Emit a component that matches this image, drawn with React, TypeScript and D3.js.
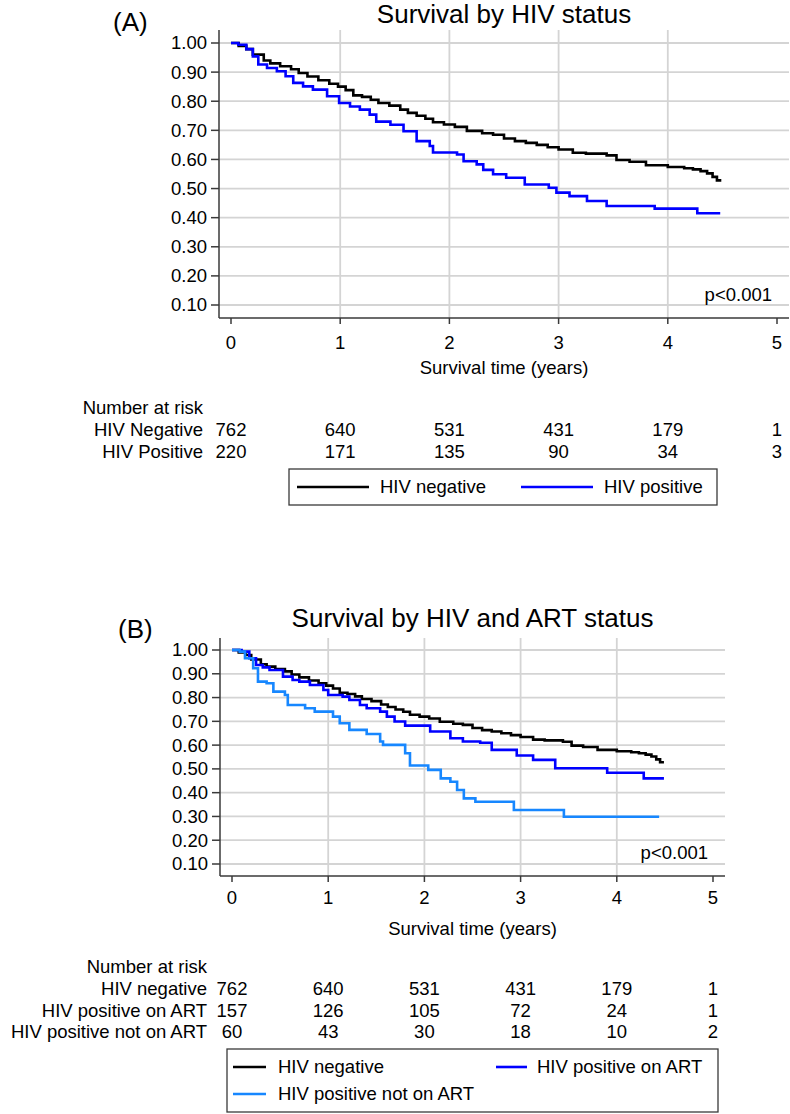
import React from 'react';
import * as d3 from 'd3';

// ---------- DATA ----------
const yTickValues = [0.1, 0.2, 0.3, 0.4, 0.5, 0.6, 0.7, 0.8, 0.9, 1.0];
const xTickValues = [0, 1, 2, 3, 4, 5];
const gridX = [1, 2, 3, 4];

const negTime = [0, 0.07, 0.14, 0.2, 0.3, 0.36, 0.45, 0.55, 0.62, 0.7, 0.8, 0.9, 0.98, 1.05, 1.12, 1.2, 1.28, 1.35, 1.45, 1.55, 1.62, 1.7, 1.78, 1.85, 1.95, 2.05, 2.16, 2.3, 2.4, 2.5, 2.6, 2.7, 2.8, 2.9, 3.0, 3.13, 3.25, 3.44, 3.53, 3.65, 3.8, 4.0, 4.15, 4.23, 4.3, 4.36, 4.41, 4.45, 4.49];
const negSurv = [1.0, 0.99, 0.979, 0.96, 0.94, 0.93, 0.92, 0.91, 0.897, 0.885, 0.872, 0.86, 0.85, 0.838, 0.82, 0.815, 0.805, 0.794, 0.785, 0.771, 0.76, 0.75, 0.74, 0.728, 0.72, 0.712, 0.698, 0.69, 0.685, 0.672, 0.663, 0.657, 0.65, 0.642, 0.634, 0.623, 0.62, 0.614, 0.598, 0.592, 0.58, 0.574, 0.57, 0.566, 0.56, 0.552, 0.54, 0.528, 0.528];

const posTime = [0, 0.067, 0.14, 0.2, 0.25, 0.33, 0.42, 0.5, 0.57, 0.66, 0.75, 0.88, 0.99, 1.09, 1.18, 1.27, 1.33, 1.46, 1.58, 1.7, 1.82, 1.85, 2.07, 2.13, 2.25, 2.31, 2.4, 2.52, 2.69, 2.91, 2.98, 3.1, 3.26, 3.44, 3.88, 4.27, 4.48];
const posSurv = [1.0, 0.994, 0.979, 0.954, 0.926, 0.914, 0.903, 0.886, 0.863, 0.851, 0.84, 0.817, 0.794, 0.782, 0.771, 0.754, 0.73, 0.719, 0.697, 0.663, 0.646, 0.624, 0.617, 0.594, 0.583, 0.564, 0.549, 0.537, 0.514, 0.503, 0.486, 0.474, 0.457, 0.44, 0.431, 0.415, 0.415];

const artTime = [0, 0.1, 0.18, 0.25, 0.32, 0.39, 0.53, 0.63, 0.7, 0.81, 0.95, 1.0, 1.15, 1.22, 1.33, 1.4, 1.54, 1.61, 1.69, 1.8, 2.06, 2.27, 2.4, 2.58, 2.7, 2.96, 3.13, 3.36, 3.9, 4.28, 4.49];
const artSurv = [1.0, 0.993, 0.965, 0.937, 0.927, 0.916, 0.888, 0.874, 0.867, 0.853, 0.832, 0.811, 0.804, 0.79, 0.769, 0.755, 0.741, 0.72, 0.699, 0.682, 0.657, 0.629, 0.615, 0.61, 0.58, 0.556, 0.538, 0.503, 0.484, 0.46, 0.46];

const noArtTime = [0, 0.08, 0.135, 0.22, 0.27, 0.36, 0.43, 0.55, 0.58, 0.76, 0.86, 1.05, 1.12, 1.22, 1.4, 1.54, 1.57, 1.8, 1.85, 2.04, 2.17, 2.27, 2.34, 2.41, 2.53, 2.93, 3.45, 4.44];
const noArtSurv = [1.0, 0.993, 0.965, 0.923, 0.867, 0.86, 0.825, 0.811, 0.769, 0.755, 0.741, 0.72, 0.692, 0.664, 0.647, 0.615, 0.601, 0.566, 0.514, 0.496, 0.46, 0.446, 0.411, 0.376, 0.362, 0.327, 0.299, 0.299];

const riskTimes = [0, 1, 2, 3, 4, 5];
const riskANeg = [762, 640, 531, 431, 179, 1];
const riskAPos = [220, 171, 135, 90, 34, 3];
const riskBNeg = [762, 640, 531, 431, 179, 1];
const riskBArt = [157, 126, 105, 72, 24, 1];
const riskBNoArt = [60, 43, 30, 18, 10, 2];

const labelsA = ['HIV Negative', 'HIV Positive'];
const labelsB = ['HIV negative', 'HIV positive on ART', 'HIV positive not on ART'];
const legendA = ['HIV negative', 'HIV positive'];
const legendB = ['HIV negative', 'HIV positive on ART', 'HIV positive not on ART'];

// ---------- STYLE ----------
const FONT = '"Liberation Sans", Arial, Helvetica, sans-serif';
const SMALL = 18.5;
const BIG = 26;
const C_BLACK = '#000000';
const C_BLUE = '#0000ff';
const C_LTBLUE = '#1787ff';
const GRID = '#d4d4d4';
const AXIS = '#3a3a3a';

type Series = { t: number[]; s: number[]; color: string };

type PanelCfg = {
  tag: string; tagX: number; tagY: number;
  title: string; titleY: number;
  left: number; right: number; top: number; bottom: number;
  x0: number; x5: number; y1: number; y01: number;
  series: Series[];
  pX: number; pY: number;
  tickLabelY: number; xLabelY: number;
  riskHeadY: number; riskLabelRight: number; riskRowsY: number[];
  riskLabels: string[]; riskValues: number[][];
};

function Panel({ cfg }: { cfg: PanelCfg }) {
  const x = d3.scaleLinear().domain([0, 5]).range([cfg.x0, cfg.x5]);
  const y = d3.scaleLinear().domain([0.1, 1.0]).range([cfg.y01, cfg.y1]);
  const line = d3.line<[number, number]>()
    .x((d) => x(d[0]))
    .y((d) => y(d[1]))
    .curve(d3.curveStepAfter);
  const cx = (cfg.left + cfg.right) / 2;
  return (
    <g>
      <text x={cfg.tagX} y={cfg.tagY} fontSize={BIG} fontFamily={FONT}>{cfg.tag}</text>
      <text x={cx} y={cfg.titleY} fontSize={BIG} fontFamily={FONT} textAnchor="middle">{cfg.title}</text>
      {/* grid */}
      {yTickValues.map((v) => (
        <line key={'gy' + v} x1={cfg.left} x2={cfg.right} y1={y(v)} y2={y(v)} stroke={GRID} strokeWidth={1.8} />
      ))}
      {gridX.map((v) => (
        <line key={'gx' + v} x1={x(v)} x2={x(v)} y1={cfg.top} y2={cfg.bottom} stroke={GRID} strokeWidth={1.8} />
      ))}
      {/* axes */}
      <line x1={cfg.left} x2={cfg.left} y1={cfg.top} y2={cfg.bottom} stroke={AXIS} strokeWidth={1.5} />
      <line x1={cfg.left} x2={cfg.right} y1={cfg.bottom} y2={cfg.bottom} stroke={AXIS} strokeWidth={1.5} />
      {yTickValues.map((v) => (
        <g key={'ty' + v}>
          <line x1={cfg.left - 8} x2={cfg.left} y1={y(v)} y2={y(v)} stroke={AXIS} strokeWidth={1.5} />
          <text x={cfg.left - 12} y={y(v)} dy="0.35em" fontSize={SMALL} fontFamily={FONT} textAnchor="end">{d3.format('.2f')(v)}</text>
        </g>
      ))}
      {xTickValues.map((v) => (
        <g key={'tx' + v}>
          <line x1={x(v)} x2={x(v)} y1={cfg.bottom} y2={cfg.bottom + 6} stroke={AXIS} strokeWidth={1.5} />
          <text x={x(v)} y={cfg.tickLabelY} dy="0.35em" fontSize={SMALL} fontFamily={FONT} textAnchor="middle">{v}</text>
        </g>
      ))}
      <text x={cx} y={cfg.xLabelY} dy="0.35em" fontSize={SMALL} fontFamily={FONT} textAnchor="middle">Survival time (years)</text>
      {/* curves */}
      {cfg.series.map((s, i) => (
        <path key={'s' + i} d={line(s.t.map((t, j) => [t, s.s[j]] as [number, number])) || ''} fill="none" stroke={s.color} strokeWidth={2.6} />
      ))}
      <text x={cfg.pX} y={cfg.pY} dy="0.35em" fontSize={SMALL} fontFamily={FONT} textAnchor="end">p&lt;0.001</text>
      {/* risk table */}
      <text x={cfg.riskLabelRight} y={cfg.riskHeadY} dy="0.35em" fontSize={SMALL} fontFamily={FONT} textAnchor="end">Number at risk</text>
      {cfg.riskLabels.map((lab, i) => (
        <g key={'r' + i}>
          <text x={cfg.riskLabelRight} y={cfg.riskRowsY[i]} dy="0.35em" fontSize={SMALL} fontFamily={FONT} textAnchor="end">{lab}</text>
          {riskTimes.map((t, j) => (
            <text key={'rv' + j} x={x(t)} y={cfg.riskRowsY[i]} dy="0.35em" fontSize={SMALL} fontFamily={FONT} textAnchor="middle">{cfg.riskValues[i][j]}</text>
          ))}
        </g>
      ))}
    </g>
  );
}

function LegendItem({ x1, x2, y, tx, color, label }: { x1: number; x2: number; y: number; tx: number; color: string; label: string }) {
  return (
    <g>
      <line x1={x1} x2={x2} y1={y} y2={y} stroke={color} strokeWidth={2.6} />
      <text x={tx} y={y} dy="0.35em" fontSize={SMALL} fontFamily={FONT}>{label}</text>
    </g>
  );
}

export default function App() {
  const cfgA: PanelCfg = {
    tag: '(A)', tagX: 113, tagY: 31,
    title: 'Survival by HIV status', titleY: 23,
    left: 219, right: 789, top: 30, bottom: 318,
    x0: 231, x5: 777, y1: 43, y01: 305,
    series: [
      { t: negTime, s: negSurv, color: C_BLACK },
      { t: posTime, s: posSurv, color: C_BLUE },
    ],
    pX: 772, pY: 295,
    tickLabelY: 343, xLabelY: 368,
    riskHeadY: 408, riskLabelRight: 203, riskRowsY: [430, 452],
    riskLabels: labelsA, riskValues: [riskANeg, riskAPos],
  };
  const cfgB: PanelCfg = {
    tag: '(B)', tagX: 118, tagY: 638,
    title: 'Survival by HIV and ART status', titleY: 627,
    left: 220, right: 725, top: 638, bottom: 876,
    x0: 232, x5: 713, y1: 650, y01: 864,
    series: [
      { t: negTime, s: negSurv, color: C_BLACK },
      { t: artTime, s: artSurv, color: C_BLUE },
      { t: noArtTime, s: noArtSurv, color: C_LTBLUE },
    ],
    pX: 708, pY: 853,
    tickLabelY: 898, xLabelY: 929,
    riskHeadY: 967, riskLabelRight: 207, riskRowsY: [989, 1011, 1032],
    riskLabels: labelsB, riskValues: [riskBNeg, riskBArt, riskBNoArt],
  };
  return (
    <svg width={790} height={1114} style={{ position: 'absolute', left: 0, top: 0, display: 'block', background: '#fff' }}>
      <rect x={0} y={0} width={790} height={1114} fill="#fff" />
      <Panel cfg={cfgA} />
      <Panel cfg={cfgB} />
      {/* Legend A */}
      <rect x={289} y={469} width={428} height={36} fill="#fff" stroke={AXIS} strokeWidth={1.3} />
      <LegendItem x1={297} x2={369} y={487} tx={380} color={C_BLACK} label={legendA[0]} />
      <LegendItem x1={521} x2={593} y={487} tx={604} color={C_BLUE} label={legendA[1]} />
      {/* Legend B */}
      <rect x={227} y={1049} width={491} height={63} fill="#fff" stroke={AXIS} strokeWidth={1.3} />
      <LegendItem x1={233} x2={266} y={1067} tx={278} color={C_BLACK} label={legendB[0]} />
      <LegendItem x1={496} x2={527} y={1067} tx={537} color={C_BLUE} label={legendB[1]} />
      <LegendItem x1={233} x2={266} y={1094} tx={278} color={C_LTBLUE} label={legendB[2]} />
    </svg>
  );
}
